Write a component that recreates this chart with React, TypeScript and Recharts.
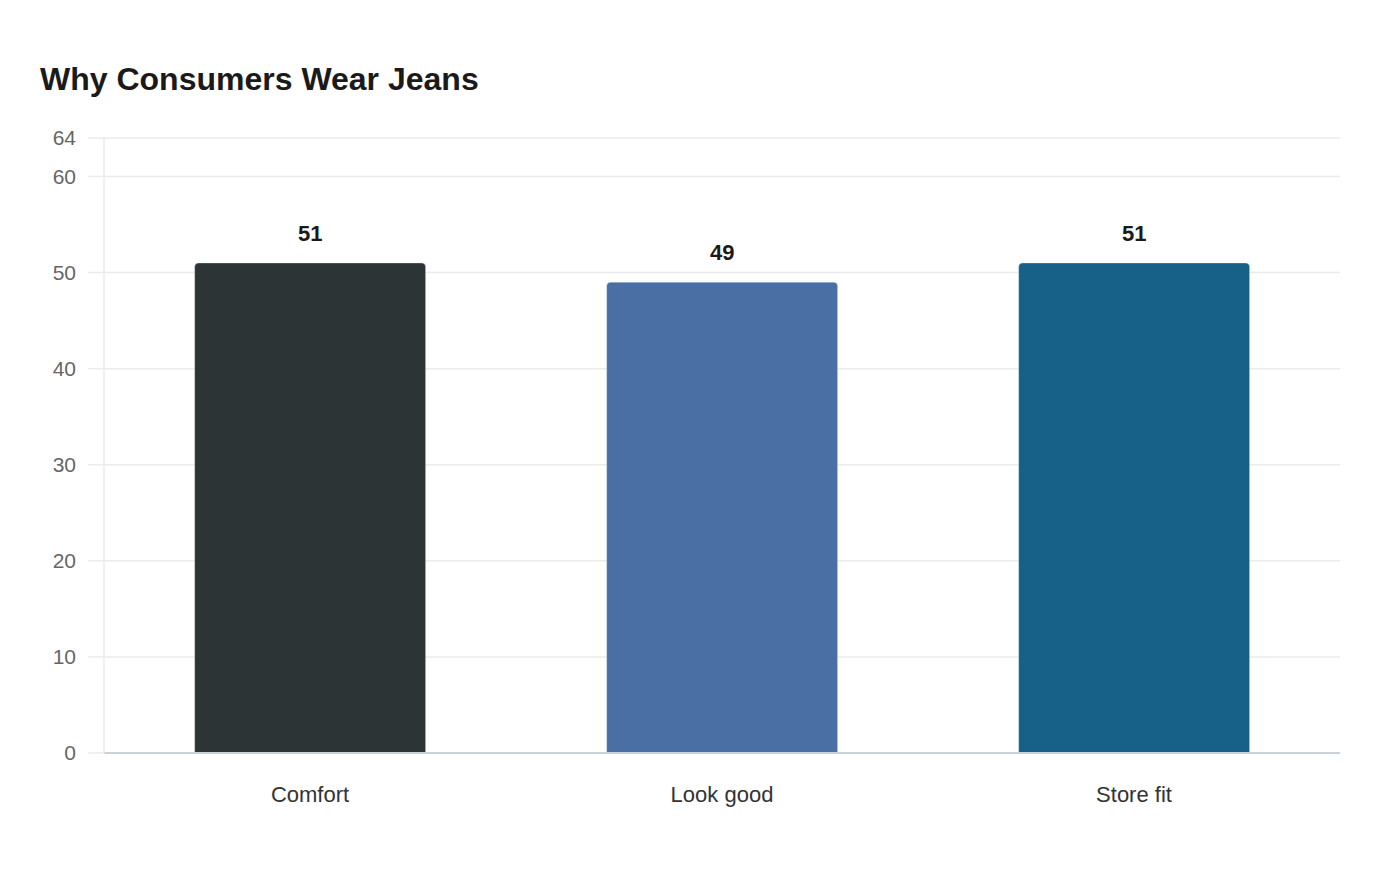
import React from 'react';
import { BarChart, Bar, XAxis, YAxis, CartesianGrid, LabelList, Cell } from 'recharts';

const categories = ['Comfort', 'Look good', 'Store fit'];
const shares = [51, 49, 51];
const barColors = ['#2d3436', '#4a6fa5', '#176087'];
const yTicks = [0, 10, 20, 30, 40, 50, 60, 64];

const data = categories.map((name, i) => ({ name, value: shares[i] }));

const FONT = '"Liberation Sans", Arial, sans-serif';

export default function App() {
  return (
    <div style={{ position: 'relative', width: 1400, height: 880, margin: -8, background: '#fff', fontFamily: FONT }}>
      <div
        style={{
          position: 'absolute',
          left: 40,
          top: 59,
          fontSize: 32,
          fontWeight: 700,
          color: '#1a1a1a',
          lineHeight: '40px',
        }}
      >
        Why Consumers Wear Jeans
      </div>
      <BarChart
        width={1400}
        height={880}
        data={data}
        margin={{ top: 138, right: 60, bottom: 97, left: 0 }}
        barCategoryGap="22%"
        style={{ position: 'absolute', left: 0, top: 0 }}
      >
        <CartesianGrid vertical={false} stroke="#ebebeb" strokeWidth={1.5} />
        <XAxis
          dataKey="name"
          height={30}
          axisLine={{ stroke: '#cbd2dc', strokeWidth: 2 }}
          tickLine={false}
          tickSize={0}
          tickMargin={33}
          tick={{ fontSize: 22, fill: '#333333', fontFamily: FONT }}
        />
        <YAxis
          width={104}
          domain={[0, 64]}
          ticks={yTicks}
          interval={0}
          axisLine={{ stroke: '#ebebeb', strokeWidth: 1.5 }}
          tickLine={{ stroke: '#ebebeb', strokeWidth: 1.5 }}
          tickSize={16}
          tickMargin={12}
          tick={{ fontSize: 21, fill: '#666666', fontFamily: FONT }}
        />
        <Bar
          dataKey="value"
          radius={[4, 4, 0, 0]}
          stroke="#ffffff"
          strokeOpacity={0.35}
          strokeWidth={1}
          isAnimationActive={false}
        >
          {data.map((d, i) => (
            <Cell key={d.name} fill={barColors[i]} />
          ))}
          <LabelList
            dataKey="value"
            position="top"
            offset={22}
            style={{ fontSize: 22, fontWeight: 700, fill: '#1a1a1a', fontFamily: FONT }}
          />
        </Bar>
      </BarChart>
    </div>
  );
}
